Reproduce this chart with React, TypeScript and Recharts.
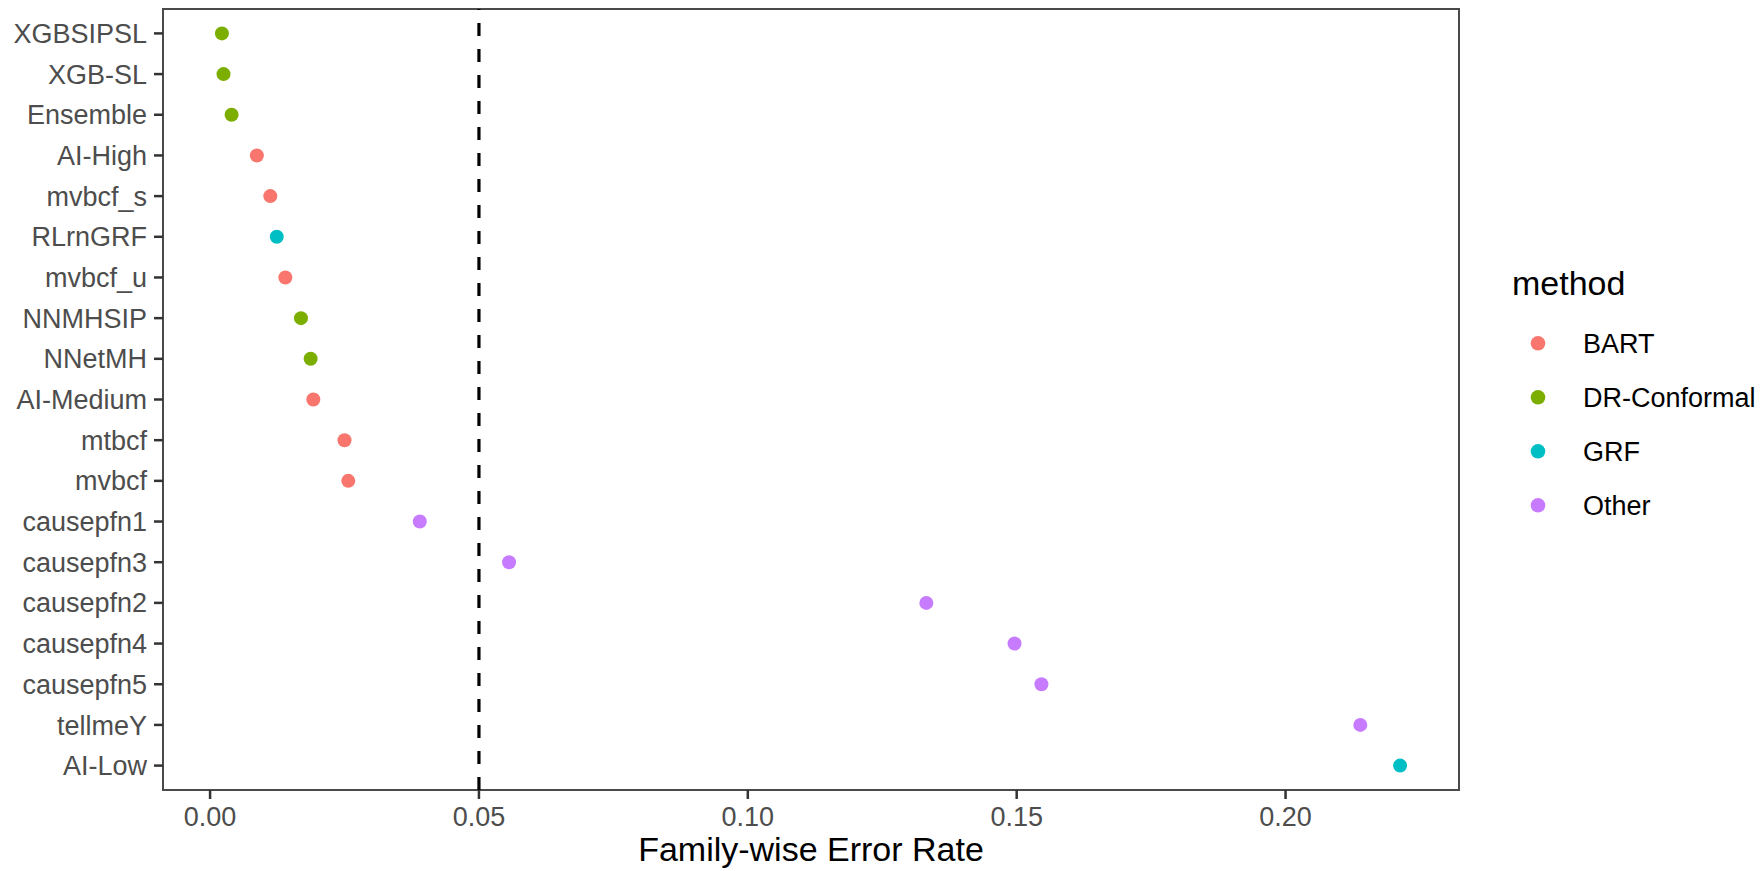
import React from 'react';
import {
  ScatterChart,
  Scatter,
  XAxis,
  YAxis,
  ReferenceLine,
  ReferenceArea,
} from 'recharts';

const methodNames = [
  'XGBSIPSL', 'XGB-SL', 'Ensemble', 'AI-High', 'mvbcf_s', 'RLrnGRF', 'mvbcf_u',
  'NNMHSIP', 'NNetMH', 'AI-Medium', 'mtbcf', 'mvbcf', 'causepfn1', 'causepfn3',
  'causepfn2', 'causepfn4', 'causepfn5', 'tellmeY', 'AI-Low',
];
const fwer = [
  0.0022, 0.0025, 0.004, 0.0087, 0.0112, 0.0124, 0.014, 0.0169, 0.0187, 0.0192,
  0.025, 0.0257, 0.039, 0.0556, 0.1332, 0.1496, 0.1546, 0.2139, 0.2213,
];
const methodGroup = [
  'DR-Conformal', 'DR-Conformal', 'DR-Conformal', 'BART', 'BART', 'GRF', 'BART',
  'DR-Conformal', 'DR-Conformal', 'BART', 'BART', 'BART', 'Other', 'Other',
  'Other', 'Other', 'Other', 'Other', 'GRF',
];
const groups = ['BART', 'DR-Conformal', 'GRF', 'Other'];
const groupColors = ['#F8766D', '#7CAE00', '#00BFC4', '#C77CFF'];
const xTicks = [0, 0.05, 0.1, 0.15, 0.2];
const threshold = 0.05;

const font = "'Liberation Sans', Arial, sans-serif";

// ggplot-style 5% expansion on x, 0.6 units on the discrete y
const xMin = Math.min(...fwer);
const xMax = Math.max(...fwer);
const xPad = (xMax - xMin) * 0.05;
const xDomain = [xMin - xPad, xMax + xPad];
const yDomain = [-0.6, methodNames.length - 1 + 0.6];
const yTicks = methodNames.map((_, i) => i);

const rows = methodNames.map((name, i) => ({ name, idx: i, fwer: fwer[i], group: methodGroup[i] }));

const Dot = (color: string) => (props: any) => (
  <circle cx={props.cx} cy={props.cy} r={7} fill={color} />
);

export default function App() {
  return (
    <div style={{ position: 'absolute', left: 0, top: 0, width: 1762, height: 871, background: '#fff' }}>
      <ScatterChart width={1762} height={871} margin={{ top: 9, right: 303, bottom: 0, left: 0 }}>
        <XAxis
          type="number"
          dataKey="fwer"
          domain={xDomain}
          ticks={xTicks}
          allowDataOverflow
          tickFormatter={(v: number) => v.toFixed(2)}
          height={81}
          tickSize={9}
          tickMargin={8}
          axisLine={false}
          tickLine={{ stroke: '#333', strokeWidth: 2.5 }}
          tick={{ fill: '#4D4D4D', fontSize: 27, fontFamily: font }}
          label={{
            value: 'Family-wise Error Rate',
            position: 'insideBottom',
            offset: 10,
            fontSize: 34,
            fill: '#000',
            fontFamily: font,
          }}
        />
        <YAxis
          type="number"
          dataKey="idx"
          domain={yDomain}
          ticks={yTicks}
          interval={0}
          reversed
          allowDataOverflow
          tickFormatter={(i: number) => methodNames[i] ?? ''}
          width={163}
          tickSize={9}
          tickMargin={7}
          axisLine={false}
          tickLine={{ stroke: '#333', strokeWidth: 2.5 }}
          tick={{ fill: '#4D4D4D', fontSize: 27, fontFamily: font }}
        />
        <ReferenceLine
          x={threshold}
          stroke="#000"
          strokeWidth={3.2}
          strokeDasharray="13 13"
        />
        {groups.map((g, gi) => (
          <Scatter
            key={g}
            name={g}
            data={rows.filter((r) => r.group === g)}
            fill={groupColors[gi]}
            shape={Dot(groupColors[gi])}
            isAnimationActive={false}
          />
        ))}
        <ReferenceArea
          x1={xDomain[0]}
          x2={xDomain[1]}
          y1={yDomain[0]}
          y2={yDomain[1]}
          fill="none"
          fillOpacity={0}
          stroke="#4a4a4a"
          strokeWidth={2}
        />
      </ScatterChart>
      <svg
        width={262}
        height={300}
        style={{ position: 'absolute', left: 1500, top: 240 }}
        fontFamily={font}
      >
        <text x={12} y={55} fontSize={34} fill="#000">method</text>
        {groups.map((g, gi) => (
          <g key={g}>
            <circle cx={38} cy={103.3 + gi * 54} r={7.3} fill={groupColors[gi]} />
            <text x={83} y={112.7 + gi * 54} fontSize={27} fill="#000">{g}</text>
          </g>
        ))}
      </svg>
    </div>
  );
}
